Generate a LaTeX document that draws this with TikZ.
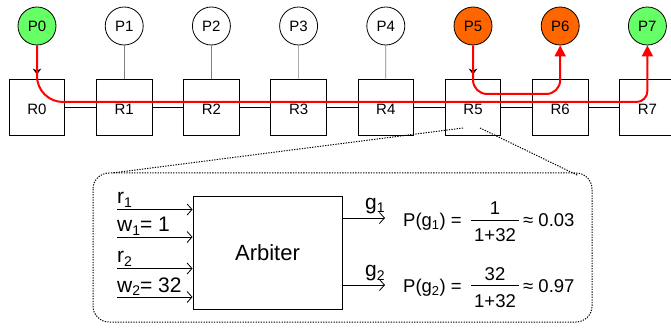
\documentclass[tikz,border=0pt]{standalone}
\usepackage{fontspec}
\setmainfont{Liberation Sans}
\usetikzlibrary{arrows.meta}
\definecolor{pgreen}{HTML}{66FF66}
\definecolor{porange}{HTML}{FF6600}
\newcommand{\lsub}[1]{\raisebox{-3.5pt}{\fontsize{14}{14}\selectfont #1}}
\begin{document}
\begin{tikzpicture}[x=1pt,y=-1pt,
  pnode/.style={circle,draw=black,line width=0.8pt,minimum size=38pt,inner sep=0pt,font=\fontsize{15}{17}\selectfont},
  rbox/.style={rectangle,draw=black,line width=0.8pt,minimum width=55.5pt,minimum height=56pt,inner sep=0pt,text height=16pt,text depth=0pt,font=\fontsize{15}{17}\selectfont},
  pline/.style={draw=black!50,line width=0.7pt},
  link/.style={draw=black,line width=0.8pt},
  route/.style={draw=red,line width=2pt,-{Triangle[length=11pt,width=11pt]}},
  dotline/.style={draw=black,line width=1pt,dash pattern=on 1.3pt off 1.3pt},
  sigarrow/.style={draw=black,line width=0.8pt,-{Straight Barb[length=5pt,width=11pt]}},
  lab/.style={inner sep=0pt,font=\fontsize{21}{24}\selectfont},
  ftext/.style={inner sep=0pt,font=\fontsize{18.5}{21}\selectfont}
]
\useasboundingbox[fill=white] (0,0) rectangle (671,328);

% processors
\node[pnode,fill=pgreen]  (P0) at (37,26) {P0};
\node[pnode]              (P1) at (124.2,26) {P1};
\node[pnode]              (P2) at (211.4,26) {P2};
\node[pnode]              (P3) at (298.6,26) {P3};
\node[pnode]              (P4) at (385.8,26) {P4};
\node[pnode,fill=porange] (P5) at (473,26) {P5};
\node[pnode,fill=porange] (P6) at (560.2,26) {P6};
\node[pnode,fill=pgreen]  (P7) at (647.4,26) {P7};

% routers
\foreach \i in {0,...,7}
  \node[rbox] (R\i) at ({37+87.2*\i},107) {R\i};

% processor-router connectors
\draw[pline,-{Stealth[length=6pt,width=8.5pt,black]},shorten >=4pt] (P0) -- (R0);
\draw[pline,-{Stealth[length=6pt,width=8.5pt,black]},shorten >=4pt] (P5) -- (R5);
\foreach \i in {1,2,3,4,6,7}
  \draw[pline] (P\i) -- (R\i);

% router links
\foreach \i/\j in {0/1,1/2,2/3,3/4,4/5,5/6,6/7}
  \draw[link] (R\i) -- (R\j);

% zoom callout
\draw[dotline,rounded corners=16pt] (93,173) rectangle (592,322);
\coordinate (zA) at (463,128);
\coordinate (zB) at (480,128);
\coordinate (cA) at (112,173);
\coordinate (cB) at (578,175.5);
\draw[dotline] (zA) -- (cA);
\draw[dotline] (zB) -- (cB);

% arbiter
\node[draw=black,line width=0.8pt,minimum width=149pt,minimum height=113pt,inner sep=0pt,font=\fontsize{22}{26}\selectfont] (arb) at (267.5,252.5) {Arbiter};

\coordinate (i1) at (117,209.5);
\coordinate (i2) at (117,237);
\coordinate (i3) at (117,268.5);
\coordinate (i4) at (117,297);
\foreach \k in {1,2,3,4}
  \draw[sigarrow] (i\k) -- (i\k -| arb.west);

\coordinate (o1) at (385,218);
\coordinate (o2) at (385,285);
\draw[sigarrow] (o1 -| arb.east) -- (o1);
\draw[sigarrow] (o2 -| arb.east) -- (o2);

\node[lab,anchor=base west] (lr1) at (117,204) {r\lsub{1}};
\node[lab,anchor=base west] (lw1) at (117,232) {w\lsub{1}= 1};
\node[lab,anchor=base west] (lr2) at (117,263) {r\lsub{2}};
\node[lab,anchor=base west] (lw2) at (117,292) {w\lsub{2}= 32};

\node[lab,anchor=base west] (lg1) at (365,209.5) {g\lsub{1}};
\node[lab,anchor=base west] (lg2) at (365,276.5) {g\lsub{2}};

% formulas
\node[ftext,anchor=base west] (pg1) at (403,227) {P(g\textsubscript{1}) =};
\node[ftext,anchor=base] (n1) at (495,215) {1};
\node[ftext,anchor=base] (d1) at (495,242) {1+32};
\coordinate (b1l) at (471,220);
\coordinate (b1r) at (519,220);
\draw[line width=0.9pt] (b1l) -- (b1r);
\node[ftext,anchor=base west] (a1) at (523,227) {≈ 0.03};

\node[ftext,anchor=base west] (pg2) at (403,292.5) {P(g\textsubscript{2}) =};
\node[ftext,anchor=base] (n2) at (495,280.5) {32};
\node[ftext,anchor=base] (d2) at (495,307.5) {1+32};
\coordinate (b2l) at (471,285.5);
\coordinate (b2r) at (519,285.5);
\draw[line width=0.9pt] (b2l) -- (b2r);
\node[ftext,anchor=base west] (a2) at (523,292.5) {≈ 0.97};

% routes
\coordinate (t0) at (37,102);
\coordinate (t7) at (647.4,102);
\draw[route] (P0.south) [rounded corners=26pt] -- (t0) [rounded corners=11pt] -- (t7) -- (P7.south);
\coordinate (t5) at (473,94);
\coordinate (t6) at (560.2,94);
\draw[route,rounded corners=14pt] (P5.south) -- (t5) -- (t6) -- (P6.south);
\end{tikzpicture}
\end{document}
